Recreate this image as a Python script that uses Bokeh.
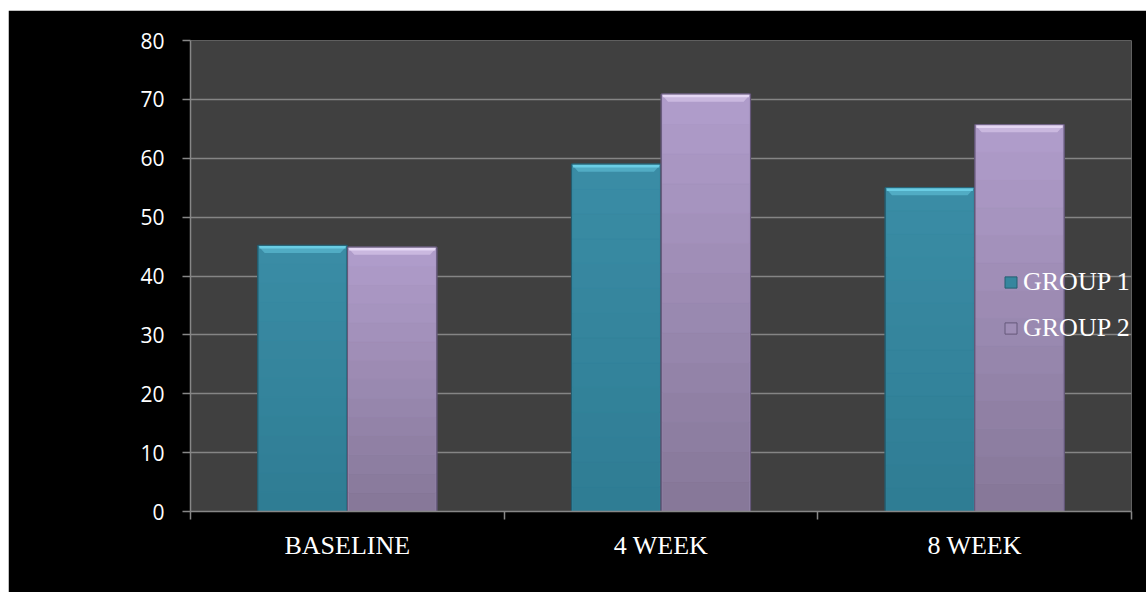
from bokeh.plotting import figure
from bokeh.models import Range1d, FixedTicker, Legend, LegendItem, ColumnDataSource
from bokeh.embed import file_html
from bokeh.resources import INLINE

# ---- data ----
categories = ["BASELINE", "4 WEEK", "8 WEEK"]
group1 = [45.2, 59.0, 55.0]
group2 = [44.9, 70.9, 65.7]
series_names = ["GROUP 1", "GROUP 2"]
y_ticks = [0, 10, 20, 30, 40, 50, 60, 70, 80]

# ---- styles ----
BAR_W = 0.285
OFFSETS = [-0.143, 0.143]
STYLES = [
    dict(bottom="#2f7d94", top="#3a8ca5", bevel="#6fd2ea", edge="#245e70"),
    dict(bottom="#877899", top="#af9cca", bevel="#eadcf8", edge="#65587a"),
]
N_BANDS = 14
BEVEL_DX = 0.022   # category units
BEVEL_DY = 1.3     # value units


def hex2rgb(h):
    h = h.lstrip("#")
    return tuple(int(h[i:i + 2], 16) for i in (0, 2, 4))


def mix(c1, c2, t):
    a, b = hex2rgb(c1), hex2rgb(c2)
    return "#%02x%02x%02x" % tuple(round(a[i] + (b[i] - a[i]) * t) for i in range(3))


p = figure(width=1138, height=582,
           x_range=Range1d(0, len(categories)), y_range=Range1d(0, 80),
           output_backend="svg", toolbar_location=None,
           background_fill_color="#404040", border_fill_color="black",
           outline_line_color=None,
           min_border_left=182, min_border_right=15,
           min_border_top=30, min_border_bottom=81)
p.styles = {"margin-left": "8px", "margin-top": "10px"}

# axes
p.yaxis.ticker = FixedTicker(ticks=y_ticks)
p.yaxis.axis_line_color = "#878787"
p.yaxis.axis_line_width = 1.5
p.yaxis.major_tick_line_color = "#878787"
p.yaxis.major_tick_line_width = 1.5
p.yaxis.major_tick_out = 8
p.yaxis.major_tick_in = 0
p.yaxis.minor_tick_line_color = None
p.yaxis.major_label_text_font = "Open Sans"
p.yaxis.major_label_text_font_size = "21px"
p.yaxis.major_label_text_color = "white"
p.yaxis.major_label_standoff = 18

centers = [i + 0.5 for i in range(len(categories))]
p.xaxis.ticker = FixedTicker(ticks=centers, minor_ticks=list(range(len(categories) + 1)))
p.xaxis.major_label_overrides = {c: lab for c, lab in zip(centers, categories)}
p.xaxis.axis_line_color = "#878787"
p.xaxis.axis_line_width = 1.5
p.xaxis.major_tick_out = 0
p.xaxis.major_tick_in = 0
p.xaxis.major_tick_line_color = None
p.xaxis.minor_tick_line_color = "#878787"
p.xaxis.minor_tick_line_width = 1.5
p.xaxis.minor_tick_out = 8
p.xaxis.minor_tick_in = 0
p.xaxis.major_label_text_font = "Liberation Serif"
p.xaxis.major_label_text_font_size = "26px"
p.xaxis.major_label_text_color = "white"
p.xaxis.major_label_standoff = 11

p.xgrid.grid_line_color = None
p.ygrid.ticker = FixedTicker(ticks=y_ticks)
p.ygrid.grid_line_color = "#858585"
p.ygrid.grid_line_width = 1.5

legend_items = []
for gi, vals in enumerate([group1, group2]):
    st = STYLES[gi]
    xs = [c + OFFSETS[gi] for c in centers]
    # base bar (used by legend)
    base = p.vbar(x=xs, top=vals, bottom=0, width=BAR_W,
                  fill_color=mix(st["bottom"], st["top"], 0.6),
                  line_color=st["edge"], line_width=1)
    legend_items.append(LegendItem(label=series_names[gi], renderers=[base]))
    # vertical gradient bands
    lefts, rights, bots, tops, cols = [], [], [], [], []
    for x, v in zip(xs, vals):
        for k in range(N_BANDS):
            lefts.append(x - BAR_W / 2 + 0.004)
            rights.append(x + BAR_W / 2 - 0.004)
            bots.append(v * k / N_BANDS)
            tops.append(v * (k + 1) / N_BANDS)
            cols.append(mix(st["bottom"], st["top"], k / (N_BANDS - 1)))
    src = ColumnDataSource(dict(left=lefts, right=rights, bottom=bots, top=tops, color=cols))
    p.quad(left="left", right="right", bottom="bottom", top="top",
           fill_color="color", line_color="color", line_width=0.5, source=src)
    # top bevel: trapezoid + bright top strip
    px, py = [], []
    for x, v in zip(xs, vals):
        l, r = x - BAR_W / 2, x + BAR_W / 2
        px.append([l, r, r - BEVEL_DX, l + BEVEL_DX])
        py.append([v, v, v - BEVEL_DY, v - BEVEL_DY])
    p.patches(px, py, fill_color=st["bevel"], fill_alpha=0.45, line_color=None)
    p.vbar(x=xs, top=vals, bottom=[v - 0.55 for v in vals], width=BAR_W - 0.01,
           fill_color=st["bevel"], fill_alpha=0.85, line_color=None)
    # outline
    p.vbar(x=xs, top=vals, bottom=0, width=BAR_W, fill_color=None,
           line_color=st["edge"], line_width=1)

legend = Legend(items=legend_items, location=(813, 168), orientation="vertical",
                label_text_font="Liberation Serif", label_text_font_size="26px",
                label_text_color="white", glyph_width=15, glyph_height=14,
                label_standoff=5, spacing=16, padding=0, margin=0,
                background_fill_alpha=0, border_line_alpha=0)
p.add_layout(legend)

open("out.html", "w").write(file_html(p, INLINE))
